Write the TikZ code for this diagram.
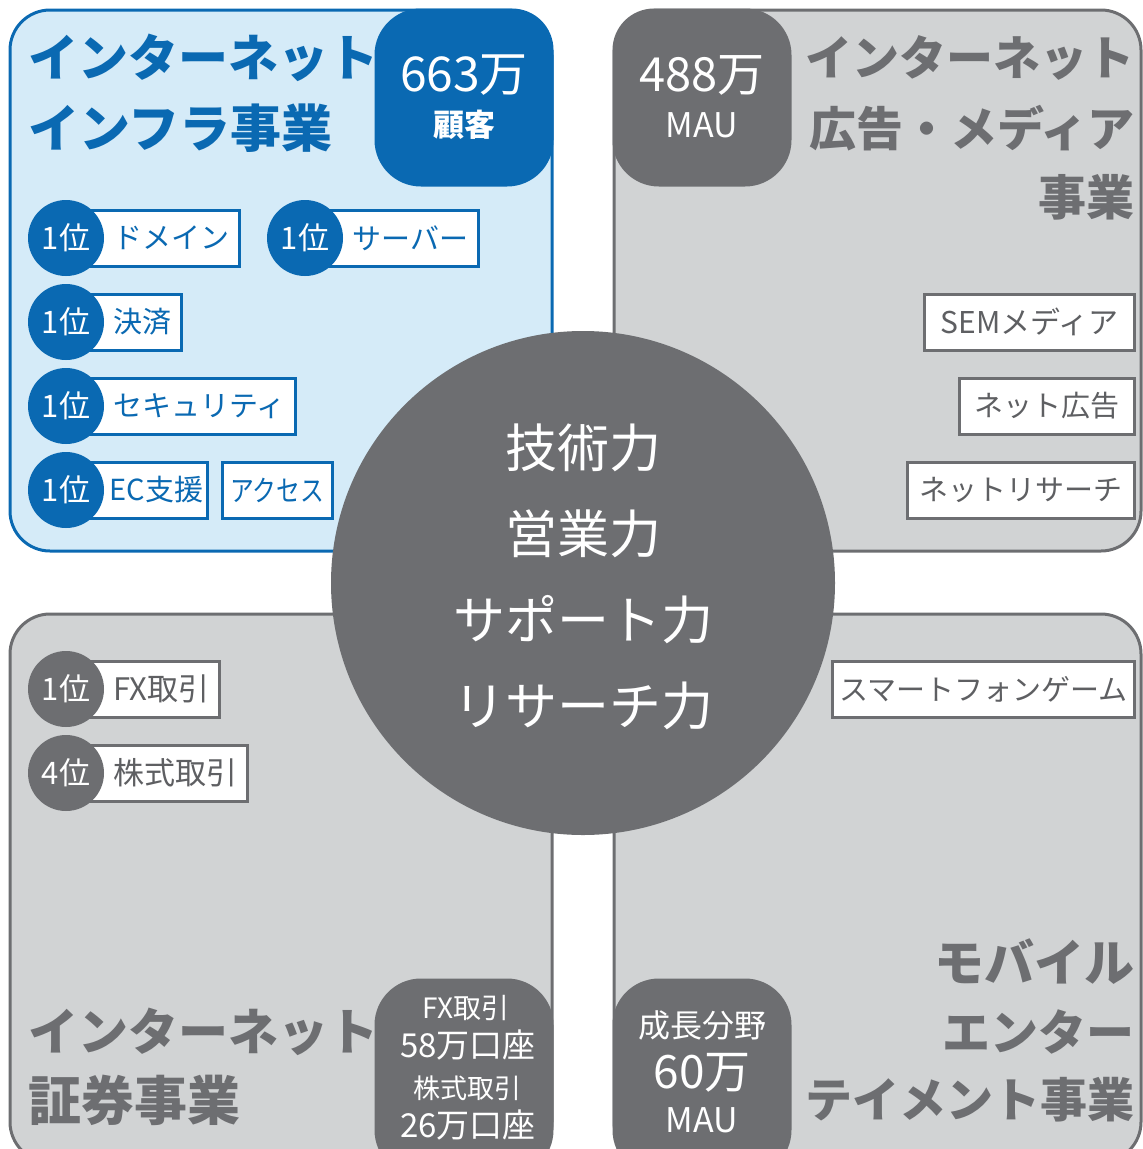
\documentclass[tikz,border=0pt]{standalone}
\usepackage{fontspec}
\setmainfont{Noto Sans CJK JP}
\usetikzlibrary{positioning}
\definecolor{bfill}{HTML}{D5EBF8}
\definecolor{bblue}{HTML}{0A69B2}
\definecolor{gfill}{HTML}{D1D3D4}
\definecolor{dgray}{HTML}{6D6E71}
\definecolor{tgray}{HTML}{5E5F62}
\newcommand{\fs}[1]{\fontsize{#1}{#1}\selectfont}
\tikzset{
  panelB/.style={fill=bfill, draw=bblue, line width=3pt, rounded corners=40pt},
  panelG/.style={fill=gfill, draw=dgray, line width=3pt, rounded corners=40pt},
  badgeB/.style={fill=bblue, draw=bblue, line width=3pt, rounded corners=45pt},
  badgeG/.style={fill=dgray, draw=dgray, line width=3pt, rounded corners=45pt},
  rankB/.style={circle, fill=bblue, minimum size=76pt, inner sep=0pt, text=white, font=\fs{31}},
  rankG/.style={circle, fill=dgray, minimum size=76pt, inner sep=0pt, text=white, font=\fs{31}},
  itemB/.style={draw=bblue, line width=3pt, fill=white, minimum height=56pt, inner xsep=10pt, inner ysep=0pt, text=bblue, font=\fs{29}},
  itemG/.style={draw=dgray, line width=3pt, fill=white, minimum height=56pt, inner xsep=12pt, inner ysep=0pt, text=tgray, font=\fs{29}},
  titleB/.style={text=bblue, font=\fs{50}\bfseries, inner sep=0pt},
  titleG/.style={text=dgray, font=\fs{50}\bfseries, inner sep=0pt},
  wtext/.style={text=white, inner sep=0pt},
}
\begin{document}
\begin{tikzpicture}[x=1pt, y=-1pt]
\useasboundingbox (0,0) rectangle (1143,1149);
\clip (0,0) rectangle (1143,1149);
% panels
\draw[panelB] (10,10) rectangle (552,551);
\draw[panelG] (614,10) rectangle (1141,551);
\draw[panelG] (10,614) rectangle (552,1162);
\draw[panelG] (614,614) rectangle (1141,1162);
% badges
\draw[badgeB] (376,10) rectangle (552,185);
\draw[badgeG] (614,10) rectangle (790,185);
\draw[badgeG] (376,980) rectangle (552,1175);
\draw[badgeG] (614,980) rectangle (790,1175);
\node[wtext, font=\fs{48}] (b1a) at (464,75) {663万};
\node[wtext, font=\fs{31}\bfseries] (b1b) at (464,125) {顧客};
\node[wtext, font=\fs{47}] (b2a) at (702,75) {488万};
\node[wtext, font=\fs{34}] (b2b) at (702,125) {MAU};
\node[wtext, font=\fs{28}] (b3a) at (466,1008) {FX取引};
\node[wtext, font=\fs{33}] (b3b) at (468,1045) {58万口座};
\node[wtext, font=\fs{27}] (b3c) at (467,1088) {株式取引};
\node[wtext, font=\fs{33}] (b3d) at (468,1125) {26万口座};
\node[wtext, font=\fs{32}] (b4a) at (702,1025) {成長分野};
\node[wtext, font=\fs{46}] (b4b) at (702,1073) {60万};
\node[wtext, font=\fs{34}] (b4c) at (702,1120) {MAU};
% titles
\node[titleB, anchor=west] (t1a) at (28,58) {インターネット};
\node[titleB, anchor=west, font=\fs{51}\bfseries] (t1b) at (28,128) {インフラ事業};
\node[titleG, anchor=east, font=\fs{47}\bfseries] (t2a) at (1135,58) {インターネット};
\node[titleG, anchor=east, font=\fs{47}\bfseries] (t2b) at (1135,128) {広告・メディア};
\node[titleG, anchor=east, font=\fs{48}\bfseries] (t2c) at (1135,197) {事業};
\node[titleG, anchor=west] (t3a) at (28,1032) {インターネット};
\node[titleG, anchor=west, font=\fs{53}\bfseries] (t3b) at (28,1100) {証券事業};
\node[titleG, anchor=east] (t4a) at (1135,962) {モバイル};
\node[titleG, anchor=east, font=\fs{48}\bfseries] (t4b) at (1135,1032) {エンター};
\node[titleG, anchor=east, font=\fs{47}\bfseries] (t4c) at (1135,1100) {テイメント事業};
% TL items
\node[itemB, anchor=west] (i1) at (88,238) {\hspace*{14pt}ドメイン};
\node[rankB] (r1) at (66,238) {1位};
\node[itemB, anchor=west] (i2) at (327,238) {\hspace*{14pt}サーバー};
\node[rankB] (r2) at (305,238) {1位};
\node[itemB, anchor=west] (i3) at (88,322) {\hspace*{14pt}決済};
\node[rankB] (r3) at (66,322) {1位};
\node[itemB, anchor=west] (i4) at (88,406) {\hspace*{14pt}セキュリティ};
\node[rankB] (r4) at (66,406) {1位};
\node[itemB, anchor=west, inner xsep=4pt] (i5) at (88,490) {\hspace*{16pt}EC支援};
\node[rankB] (r5) at (66,490) {1位};
\node[itemB, right=12pt of i5, inner xsep=8pt] (i6) {\scalebox{0.82}[1]{アクセス}};
% TR items
\node[itemG, anchor=east, inner xsep=16pt, font=\fs{30}] (g1) at (1136,322) {SEMメディア};
\node[itemG, anchor=east, inner xsep=15pt] (g2) at (1136,406) {ネット広告};
\node[itemG, anchor=east, inner xsep=12pt] (g3) at (1136,490) {ネットリサーチ};
% BL items
\node[itemG, anchor=west, inner xsep=10pt, font=\fs{31}] (g4) at (88,689) {\hspace*{14pt}FX取引};
\node[rankG] (r6) at (66,689) {1位};
\node[itemG, anchor=west, inner xsep=10pt, font=\fs{31}] (g5) at (88,773) {\hspace*{14pt}株式取引};
\node[rankG] (r7) at (66,773) {4位};
% BR item
\node[itemG, anchor=east, inner xsep=7pt] (g6) at (1136,689) {スマートフォンゲーム};
% core
\node[circle, fill=dgray, minimum size=504pt, inner sep=0pt] (core) at (583,583) {};
\node[wtext, font=\fs{52}] (c1) at (583,448) {技術力};
\node[wtext, font=\fs{52}] (c2) at (583,534) {営業力};
\node[wtext, font=\fs{52}] (c3) at (583,620) {サポート力};
\node[wtext, font=\fs{52}] (c4) at (583,706) {リサーチ力};
\end{tikzpicture}
\end{document}
